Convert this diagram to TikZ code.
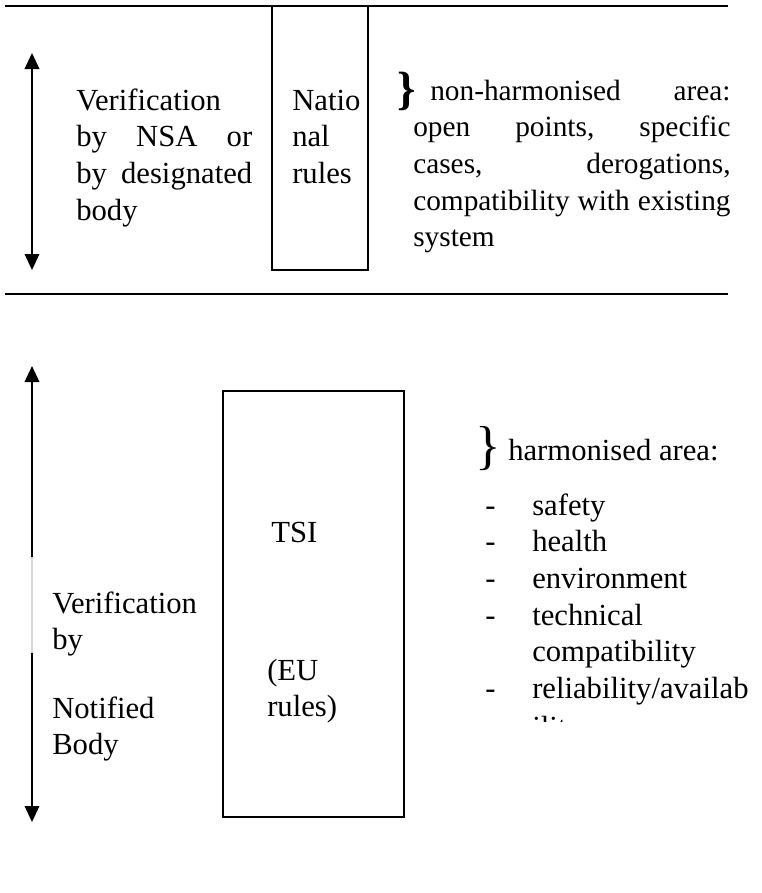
\documentclass[tikz,border=0pt]{standalone}
\usepackage{fontspec}
\setmainfont{Liberation Serif}
\usepackage{xcolor}
\definecolor{docBlack}{RGB}{0,0,0}
\definecolor{gapGray}{RGB}{215,215,215}
\usepackage{tikz}
\usetikzlibrary{arrows.meta, positioning, calc}

\begin{document}
\begin{tikzpicture}[
    x=0.75pt, y=-0.75pt,
    every node/.style={font=\fontsize{23pt}{27.5pt}\selectfont},
    ruleBox/.style={
        rectangle,
        draw=docBlack, line width=1.1pt,
        inner sep=0pt
    },
    bodyText/.style={
        anchor=base west, inner sep=0pt,
        align=left, text=docBlack
    },
    sepLine/.style={
        draw=docBlack, line width=1.2pt
    },
    verArrow/.style={
        <->, >={Triangle[length=12pt, width=11pt]},
        line width=1.1pt, draw=docBlack
    },
    areaBrace/.style={
        anchor=center, inner sep=0pt, text=docBlack,
        font=\fontsize{40pt}{40pt}\selectfont
    }
]
    \useasboundingbox (0,0) rectangle (762,893);

    % Separator lines
    \coordinate (topL) at (5,6);
    \coordinate (topM) at (105,6);
    \coordinate (topR) at (728,6);
    \coordinate (midL) at (5,294);
    \coordinate (midR) at (728,294);
    \draw[sepLine] (topL) -- (topR);
    \draw[sepLine, line width=1.6pt] (topL) -- (topM);
    \draw[sepLine, line width=1.5pt] (midL) -- (midR);

    % Rule boxes
    \node[ruleBox, minimum width=72pt, minimum height=198pt] (natBox) at (320,138) {};
    \node[ruleBox, minimum width=135.75pt, minimum height=319.5pt] (tsiBox) at (313.5,604) {};

    % Non-harmonised part
    \coordinate (nsaTop) at (32,53);
    \coordinate (nsaBot) at (32,270);
    \draw[verArrow] (nsaTop) -- (nsaBot);

    \node[bodyText, text width=132pt] (nsaText) at (76,110)
        {Verification\\by\hfill NSA\hfill or\\by\hfill designated\\body};
    \node[bodyText, text width=60pt] (natText) at (292,110) {Natio\\nal\\rules};

    \node[areaBrace, font=\fontsize{35pt}{35pt}\selectfont\bfseries] (nonBrace) at (407,91.5) {\}};
    \node[bodyText, text width=238pt, font=\fontsize{22pt}{27.5pt}\selectfont] (nonText) at (413,100)
        {\hspace*{12.75pt}non-harmonised\hfill area:\\
         open\hfill points,\hfill specific\\
         cases,\hfill derogations,\\
         compatibility\hfill with\hfill existing\\
         system};

    % Harmonised part
    \coordinate (nbTop) at (32,366);
    \coordinate (nbBot) at (32,822);
    \coordinate (gapTop) at (32,557);
    \coordinate (gapBot) at (32,653);
    \draw[verArrow] (nbTop) -- (nbBot);
    \draw[draw=gapGray, line width=1.3pt] (gapTop) -- (gapBot);

    \node[bodyText, text width=120pt] (nbText) at (52,613) {Verification\\by};
    \node[bodyText, text width=120pt] (nbBody) at (52,718) {Notified\\Body};

    \node[bodyText] (tsiText) at (271,542) {TSI};
    \node[bodyText, text width=60pt] (euText) at (267,680) {(EU\\rules)};

    \node[areaBrace] (harmBrace) at (488,448.5) {\}};
    \node[bodyText] (harmText) at (508,460) {harmonised area:};
    \node[bodyText, text width=210pt] (harmList) at (485,515)
        {\makebox[35.25pt][l]{-}safety\\
         \makebox[35.25pt][l]{-}health\\
         \makebox[35.25pt][l]{-}environment\\
         \makebox[35.25pt][l]{-}technical\\
         \makebox[35.25pt][l]{}compatibility\\
         \makebox[35.25pt][l]{-}reliability/availab};

    \begin{scope}
        \clip (520,700) rectangle (600,721);
        \node[bodyText] (harmMore) at (532,737) {ility};
    \end{scope}

\end{tikzpicture}
\end{document}
